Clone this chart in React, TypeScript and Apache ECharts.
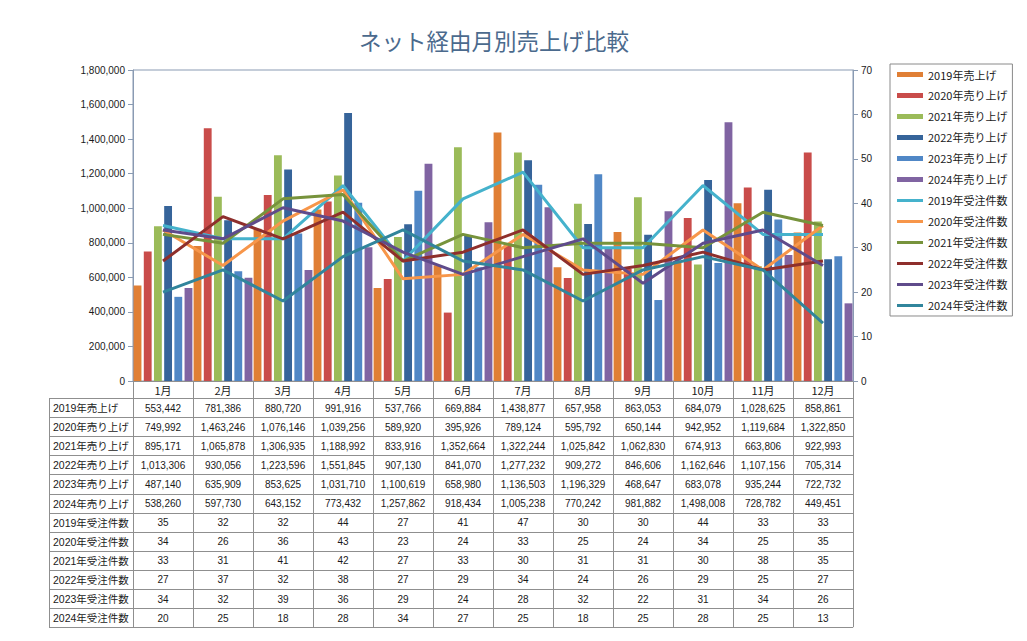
import React, { useEffect, useRef } from "react";
import * as echarts from "echarts";

const months = ["1月", "2月", "3月", "4月", "5月", "6月", "7月", "8月", "9月", "10月", "11月", "12月"];

const salesNames = ["2019年売上げ", "2020年売り上げ", "2021年売り上げ", "2022年売り上げ", "2023年売り上げ", "2024年売り上げ"];
const sales2019 = [553442, 781386, 880720, 991916, 537766, 669884, 1438877, 657958, 863053, 684079, 1028625, 858861];
const sales2020 = [749992, 1463246, 1076146, 1039256, 589920, 395926, 789124, 595792, 650144, 942952, 1119684, 1322850];
const sales2021 = [895171, 1065878, 1306935, 1188992, 833916, 1352664, 1322244, 1025842, 1062830, 674913, 663806, 922993];
const sales2022 = [1013306, 930056, 1223596, 1551845, 907130, 841070, 1277232, 909272, 846606, 1162646, 1107156, 705314];
const sales2023 = [487140, 635909, 853625, 1031710, 1100619, 658980, 1136503, 1196329, 468647, 683078, 935244, 722732];
const sales2024 = [538260, 597730, 643152, 773432, 1257862, 918434, 1005238, 770242, 981882, 1498008, 728782, 449451];

const orderNames = ["2019年受注件数", "2020年受注件数", "2021年受注件数", "2022年受注件数", "2023年受注件数", "2024年受注件数"];
const orders2019 = [35, 32, 32, 44, 27, 41, 47, 30, 30, 44, 33, 33];
const orders2020 = [34, 26, 36, 43, 23, 24, 33, 25, 24, 34, 25, 35];
const orders2021 = [33, 31, 41, 42, 27, 33, 30, 31, 31, 30, 38, 35];
const orders2022 = [27, 37, 32, 38, 27, 29, 34, 24, 26, 29, 25, 27];
const orders2023 = [34, 32, 39, 36, 29, 24, 28, 32, 22, 31, 34, 26];
const orders2024 = [20, 25, 18, 28, 34, 27, 25, 18, 25, 28, 25, 13];

const salesData = [sales2019, sales2020, sales2021, sales2022, sales2023, sales2024];
const orderData = [orders2019, orders2020, orders2021, orders2022, orders2023, orders2024];

const barColors = ["#E07F35", "#C94C4A", "#9BBB59", "#36649A", "#5087C6", "#8064A2"];
const lineColors = ["#45B2CC", "#F7964A", "#77933C", "#8E2F2C", "#5F4B8B", "#31859C"];

const FONT = '"Noto Sans CJK JP", "Noto Sans", sans-serif';
const TFONT = '"Liberation Sans", "Noto Sans CJK JP", sans-serif';

const fmt = (v: number) => v.toLocaleString("en-US");

export default function App() {
  const ref = useRef<HTMLDivElement>(null);

  useEffect(() => {
    if (!ref.current) return;
    const chart = echarts.init(ref.current, undefined, { renderer: "svg" });

    const gridLeft = 133;
    const gridRight = 853;
    const gridTop = 70;
    const gridBottom = 381;
    const colW = (gridRight - gridLeft) / months.length;
    const tableTop = 398;
    const tableLeft = 49;
    const rowH = 19.1;
    const lineColor = "#8f8f8f";

    const rowNames = [...salesNames, ...orderNames];
    const rowValues = [...salesData, ...orderData];
    const nRows = rowNames.length;
    const tableBottom = tableTop + nRows * rowH;

    const graphics: any[] = [];
    for (let i = 0; i <= nRows; i++) {
      const y = Math.round(tableTop + i * rowH) + 0.5;
      graphics.push({
        type: "line",
        silent: true,
        shape: { x1: tableLeft, y1: y, x2: gridRight, y2: y },
        style: { stroke: lineColor, lineWidth: 1 },
      });
    }
    graphics.push({
      type: "line",
      silent: true,
      shape: { x1: tableLeft + 0.5, y1: tableTop, x2: tableLeft + 0.5, y2: tableBottom },
      style: { stroke: lineColor, lineWidth: 1 },
    });
    for (let k = 0; k <= months.length; k++) {
      const x = Math.round(gridLeft + k * colW) + 0.5;
      graphics.push({
        type: "line",
        silent: true,
        shape: { x1: x, y1: gridBottom, x2: x, y2: tableBottom },
        style: { stroke: lineColor, lineWidth: 1 },
      });
    }
    rowNames.forEach((name, i) => {
      const cy = tableTop + i * rowH + rowH / 2 + 0.5;
      graphics.push({
        type: "text",
        silent: true,
        x: tableLeft + 4,
        y: cy,
        style: { text: name, fill: "#1a1a1a", fontSize: 10.5, fontFamily: TFONT, align: "left", verticalAlign: "middle" },
      });
      rowValues[i].forEach((v, k) => {
        graphics.push({
          type: "text",
          silent: true,
          x: gridLeft + k * colW + colW / 2,
          y: cy,
          style: { text: fmt(v), fill: "#1a1a1a", fontSize: 10, fontFamily: TFONT, align: "center", verticalAlign: "middle" },
        });
      });
    });

    const series: any[] = [];
    salesNames.forEach((name, i) => {
      series.push({
        name,
        type: "bar",
        yAxisIndex: 0,
        data: salesData[i],
        barCategoryGap: "2%",
        barGap: "30%",
        itemStyle: { color: barColors[i] },
        z: 2,
      });
    });
    orderNames.forEach((name, i) => {
      series.push({
        name,
        type: "line",
        yAxisIndex: 1,
        data: orderData[i],
        symbol: "none",
        showSymbol: false,
        lineStyle: { color: lineColors[i], width: 3 },
        itemStyle: { color: lineColors[i] },
        z: 5,
      });
    });

    const axisColor = "#8A9BB3";

    chart.setOption({
      animation: false,
      textStyle: { fontFamily: FONT },
      title: {
        text: "ネット経由月別売上げ比較",
        left: 489,
        top: 24,
        textAlign: "center",
        textStyle: { fontSize: 22.5, fontWeight: "normal", color: "#4B6A8D", fontFamily: FONT },
      },
      legend: {
        orient: "vertical",
        left: 890,
        top: 64,
        padding: [5, 5, 5, 7],
        itemGap: 10,
        itemWidth: 26,
        itemHeight: 6,
        borderColor: "#8a8a8a",
        borderWidth: 1,
        backgroundColor: "#fff",
        textStyle: { fontSize: 11, color: "#1a1a1a", fontFamily: FONT },
        data: [
          ...salesNames.map((n) => ({ name: n, icon: "path://M0,0L26,0L26,5L0,5Z" })),
          ...orderNames.map((n) => ({ name: n, icon: "path://M0,0L26,0L26,3L0,3Z" })),
        ],
      },
      grid: {
        left: gridLeft,
        right: 1027 - gridRight,
        top: gridTop,
        bottom: 641 - gridBottom,
        show: true,
        borderColor: axisColor,
        borderWidth: 1,
        backgroundColor: "transparent",
        containLabel: false,
      },
      xAxis: {
        type: "category",
        data: months,
        boundaryGap: true,
        axisLine: { show: true, lineStyle: { color: "#8f8f8f" } },
        axisTick: { show: false },
        axisLabel: { fontSize: 11, color: "#1a1a1a", margin: 3, fontFamily: FONT },
        splitLine: { show: false },
      },
      yAxis: [
        {
          type: "value",
          min: 0,
          max: 1800000,
          interval: 200000,
          axisLine: { show: true, lineStyle: { color: axisColor } },
          axisTick: { show: true, length: 5, lineStyle: { color: axisColor } },
          axisLabel: { fontSize: 10, color: "#1a1a1a", margin: 8, formatter: (v: number) => fmt(v), fontFamily: TFONT },
          splitLine: { show: false },
        },
        {
          type: "value",
          min: 0,
          max: 70,
          interval: 10,
          position: "right",
          axisLine: { show: true, lineStyle: { color: axisColor } },
          axisTick: { show: true, length: 5, lineStyle: { color: axisColor } },
          axisLabel: { fontSize: 10, color: "#1a1a1a", margin: 8, fontFamily: TFONT },
          splitLine: { show: false },
        },
      ],
      series,
      graphic: graphics,
    });

    return () => {
      chart.dispose();
    };
  }, []);

  return (
    <div
      ref={ref}
      style={{ position: "fixed", left: 0, top: 0, width: 1027, height: 641, background: "#fff" }}
    />
  );
}
